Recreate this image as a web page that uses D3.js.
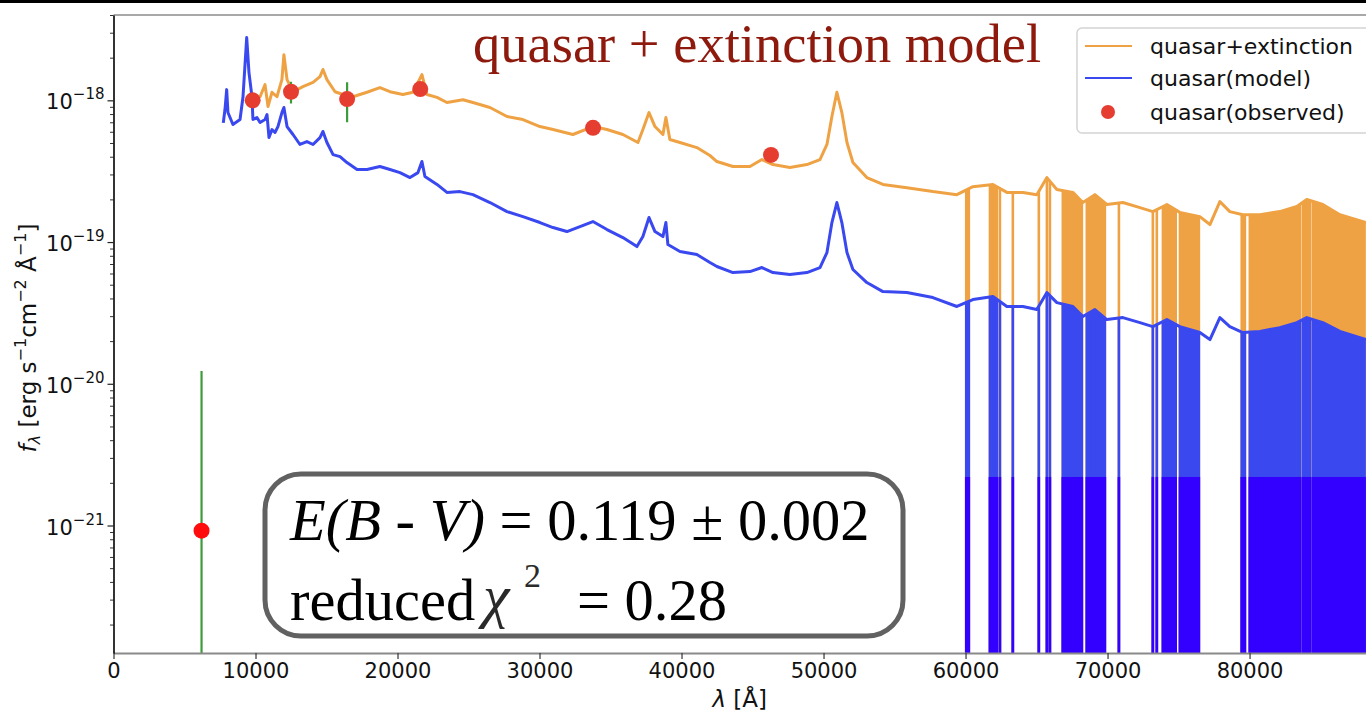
<!DOCTYPE html>
<html>
<head>
<meta charset="utf-8">
<script src="https://cdn.jsdelivr.net/npm/d3@7"></script>
<style>
  html, body { margin: 0; padding: 0; background: #fff; overflow: hidden; }
  svg { display: block; }
</style>
</head>
<body>
<svg id="chart" width="1366" height="714"></svg>
<script>
// ---- data -------------------------------------------------------------
// Fluxes are given in units of 1e-19 erg s^-1 cm^-2 Å^-1, wavelengths in Å.
const FLUX_UNIT = 1e-19;

// intrinsic quasar template
const modelWave = [7730, 7850, 7970, 8060, 8410, 8910, 9120, 9380, 9540, 9750, 9820, 10100, 10320, 10670, 10810, 10950, 11160, 11370, 11580, 11860, 12000, 12220, 12640, 13130, 13620, 14050, 14540, 14750, 15030, 15460, 15950, 16440, 17150, 17850, 18760, 19470, 20170, 20880, 21440, 21720, 21930, 22780, 23480, 24400, 25310, 26510, 27710, 28830, 30030, 30950, 31930, 32850, 33760, 34750, 35870, 36860, 37280, 37710, 38130, 38690, 38900, 39040, 39890, 41080, 42000, 42490, 43620, 44820, 45660, 46440, 47630, 48830, 49750, 50240, 50590, 50940, 51290, 51650, 52070, 53050, 54180, 55870, 57700, 59390, 60520, 61930, 62910, 64040, 65020, 65730, 66430, 67560, 68260, 69110, 69950, 71080, 72280, 73190, 74180, 75090, 76500, 77210, 77910, 78610, 79530, 80730, 82130, 83330, 84030, 85160, 86360, 88190];
const modelFlux = [6.93, 8.61, 11.9, 8.20, 6.75, 7.32, 10.6, 27.7, 15.7, 10.6, 7.32, 7.56, 6.97, 7.32, 7.94, 5.46, 6.22, 5.93, 6.53, 8.20, 8.90, 6.53, 5.74, 4.88, 5.12, 4.88, 5.46, 6.03, 5.04, 4.14, 4.01, 3.64, 3.25, 3.25, 3.41, 3.25, 3.09, 2.85, 3.09, 3.70, 2.90, 2.55, 2.24, 2.27, 2.16, 1.90, 1.64, 1.51, 1.373, 1.266, 1.186, 1.286, 1.395, 1.225, 1.076, 0.929, 1.093, 1.489, 1.186, 1.093, 1.373, 0.960, 0.857, 0.816, 0.717, 0.672, 0.609, 0.619, 0.661, 0.609, 0.590, 0.609, 0.661, 0.843, 1.373, 1.90, 1.373, 0.843, 0.640, 0.518, 0.447, 0.440, 0.406, 0.351, 0.393, 0.413, 0.351, 0.351, 0.334, 0.440, 0.374, 0.351, 0.298, 0.334, 0.284, 0.293, 0.270, 0.253, 0.284, 0.253, 0.230, 0.205, 0.293, 0.253, 0.230, 0.234, 0.249, 0.270, 0.293, 0.270, 0.234, 0.205];

// template with the fitted extinction applied
const extinctWave = [9820, 10320, 10670, 10880, 11160, 11510, 11860, 12000, 12220, 12640, 13340, 14050, 14540, 14750, 15030, 15600, 16160, 16860, 17850, 18760, 19470, 20380, 21090, 21720, 22070, 22780, 23480, 24610, 25310, 26510, 27710, 28830, 30030, 30950, 32350, 33760, 34750, 35870, 36930, 37280, 37710, 38130, 38690, 38900, 39180, 39890, 41080, 42000, 42490, 43620, 44820, 45660, 46440, 47630, 48830, 49750, 50240, 50590, 50940, 51290, 51650, 52070, 53050, 54180, 55870, 57700, 59390, 60520, 61930, 62910, 64040, 65020, 65730, 66430, 67560, 68260, 69110, 69950, 71080, 72280, 73190, 74180, 75090, 76500, 77210, 77910, 78610, 79530, 80730, 82130, 83330, 84030, 85160, 86360, 88190];
const extinctFlux = [10.1, 10.6, 12.9, 9.04, 11.4, 10.6, 14.0, 21.0, 14.0, 11.5, 12.5, 13.4, 14.7, 16.5, 14.0, 11.5, 11.0, 10.6, 11.4, 12.3, 11.5, 11.0, 11.4, 15.2, 11.0, 10.5, 9.65, 10.1, 9.65, 8.90, 7.69, 7.32, 6.53, 6.22, 5.74, 6.53, 6.22, 5.74, 5.04, 6.22, 8.20, 6.53, 5.74, 7.56, 5.29, 5.04, 4.64, 4.08, 3.70, 3.41, 3.41, 3.82, 3.52, 3.36, 3.52, 3.82, 4.88, 7.69, 11.4, 8.20, 5.04, 3.64, 2.85, 2.55, 2.42, 2.27, 2.16, 2.46, 2.55, 2.24, 2.24, 2.16, 2.85, 2.35, 2.24, 1.90, 2.16, 1.84, 1.90, 1.75, 1.64, 1.84, 1.62, 1.51, 1.329, 1.93, 1.64, 1.56, 1.56, 1.64, 1.78, 1.995, 1.84, 1.56, 1.373];

// wavelength ranges with no usable flux (drawn as drops to zero)
const gapStart = [60050, 61720, 62200, 62420, 63330, 65160, 65730, 65940, 66850, 68540, 68890, 70800, 73190, 73470, 73900, 75100, 79450, 80020, 80160, 83750, 84030, 84450];
const gapEnd   = [60230, 62060, 62200, 62420, 63330, 65160, 65730, 65940, 68190, 68750, 69810, 70800, 73190, 73470, 74800, 76430, 79670, 80020, 83540, 83890, 84240, 88300];
const gapFloorFlux = 0.022;   // level of the dense floor inside the gaps

// photometry
const obsWave    = [6200, 9800, 12500, 16450, 21600, 33770, 46300];
const obsFlux    = [0.0092, 10.0, 11.5, 10.2, 12.0, 6.4, 4.12];
const obsFluxErr = [0.114, 0.4, 2.0, 3.2, 1.2, 0.3, 0.3];

// axes
const xTicks = [0, 10000, 20000, 30000, 40000, 50000, 60000, 70000, 80000];
const xTickLabels = ["0", "10000", "20000", "30000", "40000", "50000", "60000", "70000", "80000"];
const yTicks = [1e-21, 1e-20, 1e-19, 1e-18];
const yTickExponents = ["\u221221", "\u221220", "\u221219", "\u221218"];
const xDomain = [0, 88200];
const yDomain = [1.26e-22, 4.0e-18];

const seriesNames = ["quasar+extinction", "quasar(model)", "quasar(observed)"];
const titleText = "quasar + extinction model";
const ebvText = ["E(B - V)", " = 0.119 \u00b1 0.002"];
const chiText = ["reduced", "\u03c7", "2", "= 0.28"];

// ---- layout ----------------------------------------------------------
const W = 1366, H = 714;
const plot = { left: 113.5, right: 1366, top: 15, bottom: 653 };
const ORANGE = "#efa243", BLUE = "#3a48ef", DEEP_BLUE = "#3300ff";
const RED = "#e63d31", GREEN = "#3d9c3a";
const SANS = "'DejaVu Sans', sans-serif";
const SERIF = "'Liberation Serif', 'Times New Roman', serif";

const svg = d3.select("#chart");
const x = d3.scaleLinear().domain(xDomain).range([plot.left, plot.right]);
const y = d3.scaleLog().domain(yDomain).range([plot.bottom, plot.top]);

// thin black strip along the top edge
svg.append("rect").attr("x", 0).attr("y", 0).attr("width", W).attr("height", 3).attr("fill", "#000");

const defs = svg.append("defs");
defs.append("clipPath").attr("id", "plot-clip")
  .append("rect")
  .attr("x", plot.left).attr("y", plot.top)
  .attr("width", plot.right - plot.left).attr("height", plot.bottom - plot.top);

const toPoints = (wave, flux) => wave.map((w, i) => ({ w, f: flux[i] * FLUX_UNIT }));
const extinct = toPoints(extinctWave, extinctFlux);
const model = toPoints(modelWave, modelFlux);
const gaps = gapStart.map((s, i) => ({ s, e: gapEnd[i] }));

const line = d3.line().x(d => x(d.w)).y(d => y(d.f));
const under = d3.area().x(d => x(d.w)).y0(plot.bottom).y1(d => y(d.f));

["extinct", "model"].forEach((key, k) => {
  defs.append("clipPath").attr("id", "under-" + key)
    .append("path").attr("d", under(k === 0 ? extinct : model));
});

const body = svg.append("g").attr("clip-path", "url(#plot-clip)");

function drawGaps(key, color, yTop) {
  body.append("g").attr("clip-path", `url(#under-${key})`)
    .selectAll("rect").data(gaps).join("rect")
    .attr("x", d => x(d.s) - 1.3)
    .attr("width", d => Math.max(x(d.e) - x(d.s), 0) + 2.6)
    .attr("y", yTop)
    .attr("height", plot.bottom - yTop)
    .attr("fill", color);
}

// extincted spectrum
drawGaps("extinct", ORANGE, plot.top);
body.append("path").datum(extinct).attr("d", line)
  .attr("fill", "none").attr("stroke", ORANGE).attr("stroke-width", 3)
  .attr("stroke-linejoin", "round");

// intrinsic spectrum
drawGaps("model", BLUE, plot.top);
drawGaps("model", DEEP_BLUE, y(gapFloorFlux * FLUX_UNIT));
body.append("path").datum(model).attr("d", line)
  .attr("fill", "none").attr("stroke", BLUE).attr("stroke-width", 3)
  .attr("stroke-linejoin", "round");

// photometric points with error bars
const obs = obsWave.map((w, i) => ({
  w, f: obsFlux[i] * FLUX_UNIT, e: obsFluxErr[i] * FLUX_UNIT, i
}));
body.selectAll(".err").data(obs).join("line").attr("class", "err")
  .attr("x1", d => x(d.w)).attr("x2", d => x(d.w))
  .attr("y1", d => y(d.f + d.e))
  .attr("y2", d => (d.f - d.e > 0 ? y(d.f - d.e) : plot.bottom + 5))
  .attr("stroke", GREEN).attr("stroke-width", 2.2);
body.selectAll(".pt").data(obs).join("circle").attr("class", "pt")
  .attr("cx", d => x(d.w)).attr("cy", d => y(d.f)).attr("r", 8)
  .attr("fill", d => (d.i === 0 ? "#ff0d0d" : RED));

// ---- axes -----------------------------------------------------------
svg.append("line").attr("x1", plot.left).attr("x2", W).attr("y1", plot.top).attr("y2", plot.top)
  .attr("stroke", "#a8a8a8").attr("stroke-width", 2);

const xAxis = svg.append("g").attr("transform", `translate(0,${plot.bottom})`)
  .call(d3.axisBottom(x).tickValues(xTicks).tickSize(6).tickSizeOuter(0)
    .tickFormat((d, i) => xTickLabels[i]));
xAxis.select(".domain").attr("stroke", "#8a8a8a").attr("stroke-width", 2);
xAxis.selectAll(".tick line").attr("stroke", "#333").attr("stroke-width", 1.2);
xAxis.selectAll(".tick text").attr("font-family", SANS).attr("font-size", 21)
  .attr("fill", "#111").attr("y", 10).attr("dy", "0.71em");

const yMinor = y.ticks().filter(v => !yTicks.some(t => Math.abs(t - v) / t < 1e-6));
const yAxisMinor = svg.append("g").attr("transform", `translate(${plot.left},0)`)
  .call(d3.axisLeft(y).tickValues(yMinor).tickSize(3.5).tickFormat(""));
yAxisMinor.select(".domain").remove();
yAxisMinor.selectAll(".tick line").attr("stroke", "#333").attr("stroke-width", 1);

const yAxis = svg.append("g").attr("transform", `translate(${plot.left},0)`)
  .call(d3.axisLeft(y).tickValues(yTicks).tickSize(6).tickSizeOuter(0).tickFormat(""));
yAxis.select(".domain").attr("stroke", "#000").attr("stroke-width", 1.6);
yAxis.selectAll(".tick line").attr("stroke", "#222").attr("stroke-width", 1.2);
yAxis.selectAll(".tick").each(function (d) {
  const t = d3.select(this).append("text")
    .attr("x", -9).attr("y", 8.5)
    .attr("text-anchor", "end")
    .attr("font-family", SANS).attr("font-size", 21).attr("fill", "#111");
  t.append("tspan").text("10");
  t.append("tspan").attr("dy", -10).attr("font-size", 15).text(yTickExponents[yTicks.indexOf(d)]);
});

// axis titles
const xLabel = svg.append("text")
  .attr("x", (plot.left + plot.right) / 2).attr("y", 707)
  .attr("text-anchor", "middle").attr("font-family", SANS).attr("font-size", 23).attr("fill", "#111");
xLabel.append("tspan").attr("font-style", "italic").text("\u03bb");
xLabel.append("tspan").text(" [\u00c5]");

const yLabel = svg.append("text")
  .attr("transform", `translate(36,${(plot.top + plot.bottom) / 2 + 4}) rotate(-90)`)
  .attr("text-anchor", "middle").attr("font-family", SANS).attr("font-size", 23).attr("fill", "#111");
yLabel.append("tspan").attr("font-style", "italic").text("f");
yLabel.append("tspan").attr("font-style", "italic").attr("font-size", 16).attr("dy", 4).text("\u03bb");
yLabel.append("tspan").attr("dy", -4).text(" [erg s");
yLabel.append("tspan").attr("font-size", 16).attr("dy", -10).text("\u22121");
yLabel.append("tspan").attr("dy", 10).text("cm");
yLabel.append("tspan").attr("font-size", 16).attr("dy", -10).text("\u22122");
yLabel.append("tspan").attr("dy", 10).text(" \u00c5");
yLabel.append("tspan").attr("font-size", 16).attr("dy", -10).text("\u22121");
yLabel.append("tspan").attr("dy", 10).text("]");

// ---- title -----------------------------------------------------------
svg.append("text").attr("x", 473).attr("y", 62)
  .attr("font-family", SERIF).attr("font-size", 54.5).attr("fill", "#8e1a0e")
  .text(titleText);

// ---- legend ----------------------------------------------------------
const legend = svg.append("g");
legend.append("rect").attr("x", 1077).attr("y", 28).attr("width", 320).attr("height", 105)
  .attr("rx", 5).attr("fill", "#fff").attr("fill-opacity", 0.85)
  .attr("stroke", "#d4d4d4").attr("stroke-width", 1.5);
const legendRows = [46, 78, 112];
[ORANGE, BLUE].forEach((c, i) => {
  legend.append("line").attr("x1", 1085).attr("x2", 1132)
    .attr("y1", legendRows[i]).attr("y2", legendRows[i])
    .attr("stroke", c).attr("stroke-width", 2);
});
legend.append("circle").attr("cx", 1108).attr("cy", legendRows[2]).attr("r", 7).attr("fill", RED);
seriesNames.forEach((name, i) => {
  legend.append("text").attr("x", 1150).attr("y", legendRows[i] + 7.5)
    .attr("font-family", SANS).attr("font-size", 22).attr("fill", "#111").text(name);
});

// ---- fit summary box ---------------------------------------------------
const box = svg.append("g");
box.append("rect").attr("x", 265).attr("y", 474).attr("width", 638).attr("height", 162)
  .attr("rx", 36).attr("fill", "#fff").attr("stroke", "#616161").attr("stroke-width", 5);
const l1 = box.append("text").attr("x", 290).attr("y", 540)
  .attr("font-family", SERIF).attr("font-size", 58.5).attr("fill", "#000");
l1.append("tspan").attr("font-style", "italic").text(ebvText[0]);
l1.append("tspan").text(ebvText[1]);
const l2 = box.append("g").attr("font-family", SERIF).attr("fill", "#000");
l2.append("text").attr("x", 290).attr("y", 620).attr("font-size", 58.5).text(chiText[0]);
l2.append("text").attr("x", 483).attr("y", 616).attr("font-size", 60)
  .attr("font-style", "italic").attr("fill", "#2a2a2a").text(chiText[1]);
l2.append("text").attr("x", 524).attr("y", 587).attr("font-size", 34)
  .attr("fill", "#2a2a2a").text(chiText[2]);
l2.append("text").attr("x", 577).attr("y", 620).attr("font-size", 58.5).text(chiText[3]);
</script>
</body>
</html>
